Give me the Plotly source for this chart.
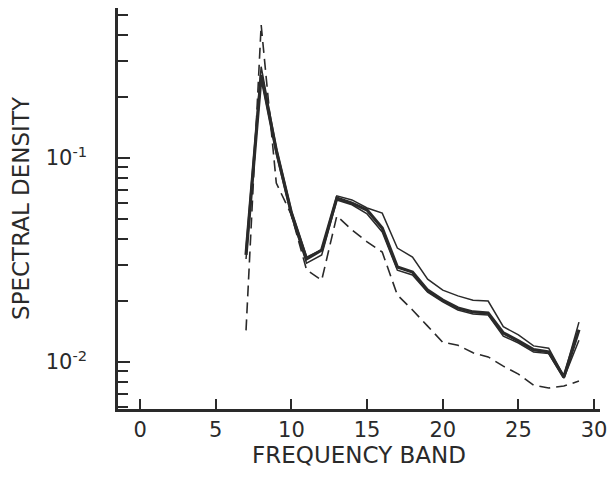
import plotly.graph_objects as go

# Frequency bands
bands = list(range(7, 30))

# Thick solid series
thick_vals = [0.0335, 0.255, 0.109, 0.0537, 0.0320, 0.0354, 0.0636, 0.0601, 0.0556,
              0.0454, 0.0292, 0.0276, 0.0225, 0.0201, 0.0184, 0.0176, 0.0174, 0.0139,
              0.0127, 0.0115, 0.0112, 0.00844, 0.0144]

# Upper thin solid series
upper_vals = [0.036, 0.28, 0.112, 0.055, 0.0327, 0.0354, 0.0652, 0.0623, 0.0569,
              0.0537, 0.0362, 0.0327, 0.0255, 0.0225, 0.0211, 0.0201, 0.0199, 0.0149,
              0.0136, 0.0120, 0.0117, 0.00853, 0.0157]

# Lower thin solid series
lower_vals = [0.032, 0.25, 0.105, 0.052, 0.0305, 0.0335, 0.0623, 0.059, 0.0532,
              0.0434, 0.0282, 0.0267, 0.022, 0.0197, 0.018, 0.0172, 0.017, 0.0134,
              0.0124, 0.0112, 0.011, 0.00834, 0.0128]

# Dashed series
dashed_vals = [0.0143, 0.449, 0.0754, 0.0526, 0.0283, 0.0252, 0.052, 0.0444, 0.0388,
               0.0346, 0.0213, 0.0180, 0.0150, 0.0125, 0.0121, 0.0111, 0.0106, 0.00955,
               0.00873, 0.00771, 0.00746, 0.00763, 0.00807]

x_ticks = [0, 5, 10, 15, 20, 25, 30]
y_major = [0.01, 0.1]
y_major_text = ["10<sup>-2</sup>", "10<sup>-1</sup>"]
y_minor = [0.006, 0.007, 0.008, 0.009, 0.02, 0.03, 0.04, 0.05, 0.06, 0.07, 0.08, 0.09,
           0.2, 0.3, 0.4, 0.5]

ink = "#2a2a2a"
font_family = "DejaVu Sans, Liberation Sans, sans-serif"

fig = go.Figure()
fig.add_trace(go.Scatter(x=bands, y=dashed_vals, mode="lines",
                         line=dict(color=ink, width=1.6, dash="11px,6px")))
fig.add_trace(go.Scatter(x=bands, y=upper_vals, mode="lines",
                         line=dict(color=ink, width=1.5)))
fig.add_trace(go.Scatter(x=bands, y=lower_vals, mode="lines",
                         line=dict(color=ink, width=1.5)))
fig.add_trace(go.Scatter(x=bands, y=thick_vals, mode="lines",
                         line=dict(color=ink, width=3.2)))

fig.update_layout(
    width=615, height=477,
    margin=dict(l=118, r=10, t=8, b=68),
    paper_bgcolor="white", plot_bgcolor="white",
    showlegend=False,
    font=dict(family=font_family, size=21, color=ink),
)
fig.update_xaxes(
    range=[-1.46, 30.39], tickvals=x_ticks,
    ticks="inside", ticklen=10, tickwidth=2, tickcolor=ink,
    showline=True, linewidth=2.5, linecolor=ink,
    showgrid=False, zeroline=False,
    title=dict(text="FREQUENCY BAND", standoff=6, font=dict(size=23)),
    tickfont=dict(size=21),
)
fig.update_yaxes(
    type="log", range=[-2.23, -0.265],
    tickvals=y_major, ticktext=y_major_text,
    ticks="inside", ticklen=12, tickwidth=2, tickcolor=ink,
    showline=True, linewidth=2.5, linecolor=ink,
    showgrid=False, zeroline=False,
    ticklabelstandoff=24,
    minor=dict(tickvals=y_minor, ticks="inside", ticklen=10, tickwidth=2,
               tickcolor=ink, showgrid=False),
    title=dict(text="SPECTRAL DENSITY", standoff=10, font=dict(size=23)),
    tickfont=dict(size=21),
)

fig.write_html(
    "out.html",
    config={"displayModeBar": False},
    post_script="document.body.style.margin='0';document.body.style.overflow='hidden';",
)
